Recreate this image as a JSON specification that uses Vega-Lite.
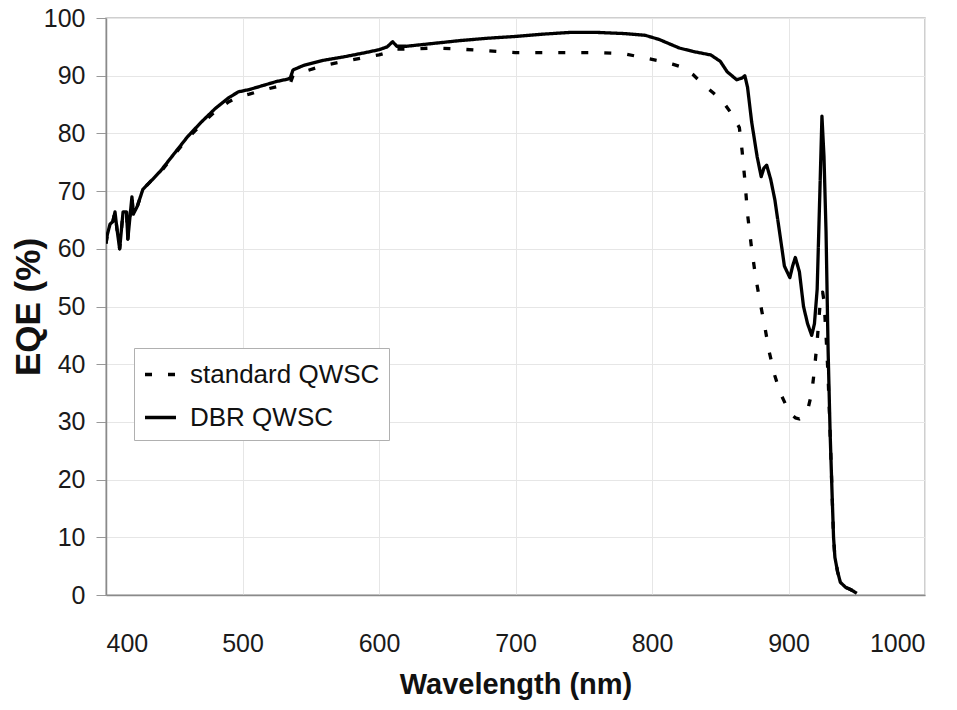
{
  "$schema": "https://vega.github.io/schema/vega-lite/v6.json",
  "width": 819,
  "height": 577,
  "autosize": {"type": "none"},
  "padding": {"left": 106, "top": 18, "right": 32, "bottom": 115},
  "background": "white",
  "config": {
    "font": "Liberation Sans",
    "view": {"stroke": "#c0c0c0", "strokeWidth": 1.5},
    "axis": {
      "labelFont": "Liberation Sans",
      "titleFont": "Liberation Sans",
      "labelFontSize": 25,
      "labelColor": "#1a1a1a",
      "titleColor": "#111",
      "titleFontWeight": "bold",
      "gridColor": "#e6e6e6",
      "gridWidth": 1,
      "domainColor": "#8a8a8a",
      "domainWidth": 1.5,
      "tickColor": "#999",
      "tickSize": 10
    }
  },
  "data": {"values": [
    {"wl":400,"eqe":60.9,"s":"DBR QWSC"},{"wl":401,"eqe":62.5,"s":"DBR QWSC"},{"wl":403,"eqe":64.3,"s":"DBR QWSC"},{"wl":405,"eqe":64.7,"s":"DBR QWSC"},{"wl":406.6,"eqe":66.4,"s":"DBR QWSC"},{"wl":408,"eqe":63.5,"s":"DBR QWSC"},{"wl":410,"eqe":60,"s":"DBR QWSC"},{"wl":412.5,"eqe":66.4,"s":"DBR QWSC"},{"wl":415,"eqe":66.4,"s":"DBR QWSC"},{"wl":416,"eqe":61.7,"s":"DBR QWSC"},{"wl":419,"eqe":69,"s":"DBR QWSC"},{"wl":420,"eqe":66,"s":"DBR QWSC"},{"wl":423,"eqe":67.4,"s":"DBR QWSC"},{"wl":427,"eqe":70.3,"s":"DBR QWSC"},{"wl":434,"eqe":72,"s":"DBR QWSC"},{"wl":440,"eqe":73.5,"s":"DBR QWSC"},{"wl":450,"eqe":76.5,"s":"DBR QWSC"},{"wl":460,"eqe":79.5,"s":"DBR QWSC"},{"wl":470,"eqe":82,"s":"DBR QWSC"},{"wl":480,"eqe":84.3,"s":"DBR QWSC"},{"wl":490,"eqe":86.2,"s":"DBR QWSC"},{"wl":497,"eqe":87.2,"s":"DBR QWSC"},{"wl":505,"eqe":87.6,"s":"DBR QWSC"},{"wl":515,"eqe":88.3,"s":"DBR QWSC"},{"wl":525,"eqe":89,"s":"DBR QWSC"},{"wl":533,"eqe":89.4,"s":"DBR QWSC"},{"wl":535,"eqe":89.6,"s":"DBR QWSC"},{"wl":537,"eqe":91,"s":"DBR QWSC"},{"wl":545,"eqe":91.8,"s":"DBR QWSC"},{"wl":560,"eqe":92.7,"s":"DBR QWSC"},{"wl":575,"eqe":93.3,"s":"DBR QWSC"},{"wl":590,"eqe":94,"s":"DBR QWSC"},{"wl":600,"eqe":94.5,"s":"DBR QWSC"},{"wl":606,"eqe":95,"s":"DBR QWSC"},{"wl":610,"eqe":95.9,"s":"DBR QWSC"},{"wl":613,"eqe":95.1,"s":"DBR QWSC"},{"wl":620,"eqe":95.1,"s":"DBR QWSC"},{"wl":640,"eqe":95.6,"s":"DBR QWSC"},{"wl":660,"eqe":96.1,"s":"DBR QWSC"},{"wl":680,"eqe":96.5,"s":"DBR QWSC"},{"wl":700,"eqe":96.8,"s":"DBR QWSC"},{"wl":720,"eqe":97.2,"s":"DBR QWSC"},{"wl":740,"eqe":97.5,"s":"DBR QWSC"},{"wl":760,"eqe":97.5,"s":"DBR QWSC"},{"wl":780,"eqe":97.3,"s":"DBR QWSC"},{"wl":795,"eqe":97,"s":"DBR QWSC"},{"wl":805,"eqe":96.3,"s":"DBR QWSC"},{"wl":811,"eqe":95.7,"s":"DBR QWSC"},{"wl":820,"eqe":94.8,"s":"DBR QWSC"},{"wl":830,"eqe":94.2,"s":"DBR QWSC"},{"wl":843,"eqe":93.6,"s":"DBR QWSC"},{"wl":850,"eqe":92.5,"s":"DBR QWSC"},{"wl":855,"eqe":90.7,"s":"DBR QWSC"},{"wl":862,"eqe":89.3,"s":"DBR QWSC"},{"wl":866,"eqe":89.6,"s":"DBR QWSC"},{"wl":868,"eqe":90,"s":"DBR QWSC"},{"wl":870,"eqe":88,"s":"DBR QWSC"},{"wl":873,"eqe":82,"s":"DBR QWSC"},{"wl":877,"eqe":76,"s":"DBR QWSC"},{"wl":880,"eqe":72.5,"s":"DBR QWSC"},{"wl":882,"eqe":74,"s":"DBR QWSC"},{"wl":884,"eqe":74.5,"s":"DBR QWSC"},{"wl":887,"eqe":72,"s":"DBR QWSC"},{"wl":890,"eqe":68.5,"s":"DBR QWSC"},{"wl":894,"eqe":62,"s":"DBR QWSC"},{"wl":897,"eqe":57,"s":"DBR QWSC"},{"wl":901,"eqe":55,"s":"DBR QWSC"},{"wl":903,"eqe":57,"s":"DBR QWSC"},{"wl":905,"eqe":58.5,"s":"DBR QWSC"},{"wl":908,"eqe":56,"s":"DBR QWSC"},{"wl":911,"eqe":50,"s":"DBR QWSC"},{"wl":914,"eqe":47,"s":"DBR QWSC"},{"wl":917,"eqe":45,"s":"DBR QWSC"},{"wl":919,"eqe":47,"s":"DBR QWSC"},{"wl":921,"eqe":53,"s":"DBR QWSC"},{"wl":923,"eqe":70,"s":"DBR QWSC"},{"wl":924.5,"eqe":83,"s":"DBR QWSC"},{"wl":926,"eqe":76,"s":"DBR QWSC"},{"wl":927.5,"eqe":63,"s":"DBR QWSC"},{"wl":929,"eqe":42.6,"s":"DBR QWSC"},{"wl":930.5,"eqe":28,"s":"DBR QWSC"},{"wl":932,"eqe":17,"s":"DBR QWSC"},{"wl":933,"eqe":10,"s":"DBR QWSC"},{"wl":934,"eqe":6.5,"s":"DBR QWSC"},{"wl":936,"eqe":4,"s":"DBR QWSC"},{"wl":938,"eqe":2.2,"s":"DBR QWSC"},{"wl":942,"eqe":1.3,"s":"DBR QWSC"},{"wl":945,"eqe":1,"s":"DBR QWSC"},{"wl":948,"eqe":0.6,"s":"DBR QWSC"},{"wl":950,"eqe":0.3,"s":"DBR QWSC"},

    {"wl":400,"eqe":60.9,"s":"standard QWSC"},{"wl":401,"eqe":62.5,"s":"standard QWSC"},{"wl":403,"eqe":64.3,"s":"standard QWSC"},{"wl":405,"eqe":64.7,"s":"standard QWSC"},{"wl":406.6,"eqe":66.4,"s":"standard QWSC"},{"wl":408,"eqe":63.5,"s":"standard QWSC"},{"wl":410,"eqe":60,"s":"standard QWSC"},{"wl":412.5,"eqe":66.4,"s":"standard QWSC"},{"wl":415,"eqe":66.4,"s":"standard QWSC"},{"wl":416,"eqe":61.7,"s":"standard QWSC"},{"wl":419,"eqe":69,"s":"standard QWSC"},{"wl":420,"eqe":66,"s":"standard QWSC"},{"wl":423,"eqe":67.4,"s":"standard QWSC"},{"wl":427,"eqe":70.3,"s":"standard QWSC"},{"wl":434,"eqe":72,"s":"standard QWSC"},{"wl":440,"eqe":73.3,"s":"standard QWSC"},{"wl":450,"eqe":76.3,"s":"standard QWSC"},{"wl":460,"eqe":79.2,"s":"standard QWSC"},{"wl":470,"eqe":81.6,"s":"standard QWSC"},{"wl":480,"eqe":83.8,"s":"standard QWSC"},{"wl":490,"eqe":85.5,"s":"standard QWSC"},{"wl":497,"eqe":86.3,"s":"standard QWSC"},{"wl":505,"eqe":86.8,"s":"standard QWSC"},{"wl":515,"eqe":87.5,"s":"standard QWSC"},{"wl":525,"eqe":88.1,"s":"standard QWSC"},{"wl":533,"eqe":88.5,"s":"standard QWSC"},{"wl":535,"eqe":88.7,"s":"standard QWSC"},{"wl":537,"eqe":90,"s":"standard QWSC"},{"wl":545,"eqe":90.7,"s":"standard QWSC"},{"wl":560,"eqe":91.8,"s":"standard QWSC"},{"wl":575,"eqe":92.5,"s":"standard QWSC"},{"wl":590,"eqe":93.2,"s":"standard QWSC"},{"wl":600,"eqe":93.6,"s":"standard QWSC"},{"wl":606,"eqe":94,"s":"standard QWSC"},{"wl":610,"eqe":94.6,"s":"standard QWSC"},{"wl":620,"eqe":94.6,"s":"standard QWSC"},{"wl":640,"eqe":94.8,"s":"standard QWSC"},{"wl":660,"eqe":94.6,"s":"standard QWSC"},{"wl":680,"eqe":94.3,"s":"standard QWSC"},{"wl":700,"eqe":94,"s":"standard QWSC"},{"wl":720,"eqe":94,"s":"standard QWSC"},{"wl":740,"eqe":94,"s":"standard QWSC"},{"wl":760,"eqe":94,"s":"standard QWSC"},{"wl":780,"eqe":93.8,"s":"standard QWSC"},{"wl":790,"eqe":93.3,"s":"standard QWSC"},{"wl":805,"eqe":92.6,"s":"standard QWSC"},{"wl":815,"eqe":92,"s":"standard QWSC"},{"wl":823,"eqe":91.4,"s":"standard QWSC"},{"wl":830,"eqe":90.2,"s":"standard QWSC"},{"wl":837,"eqe":88.6,"s":"standard QWSC"},{"wl":845,"eqe":87,"s":"standard QWSC"},{"wl":852,"eqe":85.5,"s":"standard QWSC"},{"wl":858,"eqe":83.5,"s":"standard QWSC"},{"wl":864,"eqe":81,"s":"standard QWSC"},{"wl":866,"eqe":77,"s":"standard QWSC"},{"wl":868,"eqe":72,"s":"standard QWSC"},{"wl":870,"eqe":66,"s":"standard QWSC"},{"wl":873,"eqe":60,"s":"standard QWSC"},{"wl":876,"eqe":55,"s":"standard QWSC"},{"wl":879,"eqe":51,"s":"standard QWSC"},{"wl":883,"eqe":46,"s":"standard QWSC"},{"wl":886,"eqe":42,"s":"standard QWSC"},{"wl":890,"eqe":38,"s":"standard QWSC"},{"wl":894,"eqe":35,"s":"standard QWSC"},{"wl":898,"eqe":33,"s":"standard QWSC"},{"wl":901,"eqe":31.5,"s":"standard QWSC"},{"wl":905,"eqe":30.7,"s":"standard QWSC"},{"wl":908,"eqe":30.5,"s":"standard QWSC"},{"wl":911,"eqe":31,"s":"standard QWSC"},{"wl":914,"eqe":32,"s":"standard QWSC"},{"wl":917,"eqe":35,"s":"standard QWSC"},{"wl":919,"eqe":39,"s":"standard QWSC"},{"wl":921,"eqe":44,"s":"standard QWSC"},{"wl":923,"eqe":50,"s":"standard QWSC"},{"wl":925,"eqe":52.5,"s":"standard QWSC"},{"wl":926,"eqe":51,"s":"standard QWSC"},{"wl":927.5,"eqe":45,"s":"standard QWSC"},{"wl":929,"eqe":38,"s":"standard QWSC"},{"wl":930.5,"eqe":28,"s":"standard QWSC"},{"wl":932,"eqe":17,"s":"standard QWSC"},{"wl":933,"eqe":10,"s":"standard QWSC"},{"wl":934,"eqe":6.5,"s":"standard QWSC"},{"wl":936,"eqe":4,"s":"standard QWSC"},{"wl":938,"eqe":2.2,"s":"standard QWSC"},{"wl":942,"eqe":1.3,"s":"standard QWSC"},{"wl":945,"eqe":1,"s":"standard QWSC"},{"wl":948,"eqe":0.6,"s":"standard QWSC"},{"wl":950,"eqe":0.3,"s":"standard QWSC"}
  ]},
  "mark": {"type": "line", "color": "black", "strokeWidth": 3.3, "strokeJoin": "round", "clip": true},
  "encoding": {
    "x": {
      "field": "wl", "type": "quantitative",
      "scale": {"domain": [400, 1000], "nice": false},
      "axis": {"values": [400,500,600,700,800,900,1000], "format": "d", "title": "Wavelength (nm)", "ticks": false, "labelPadding": 36, "titlePadding": 14, "titleFontSize": 29}
    },
    "y": {
      "field": "eqe", "type": "quantitative",
      "scale": {"domain": [0, 100], "nice": false},
      "axis": {"values": [0,10,20,30,40,50,60,70,80,90,100], "title": "EQE (%)", "labelPadding": 11, "titlePadding": -3, "titleFontSize": 35}
    },
    "strokeDash": {
      "field": "s", "type": "nominal",
      "scale": {"domain": ["standard QWSC", "DBR QWSC"], "range": [[7, 16], [1, 0]]},
      "legend": {
        "title": null,
        "orient": "none",
        "legendX": 28,
        "legendY": 330,
        "symbolType": "stroke",
        "symbolStrokeColor": "black",
        "symbolStrokeWidth": 3.3,
        "symbolSize": 960,
        "labelFontSize": 26,
        "labelFont": "Liberation Sans",
        "labelColor": "#111",
        "labelLimit": 400,
        "rowPadding": 12,
        "padding": 9,
        "strokeColor": "#b0b0b0",
        "fillColor": "white",
        "labelOffset": 12
      }
    }
  }
}
